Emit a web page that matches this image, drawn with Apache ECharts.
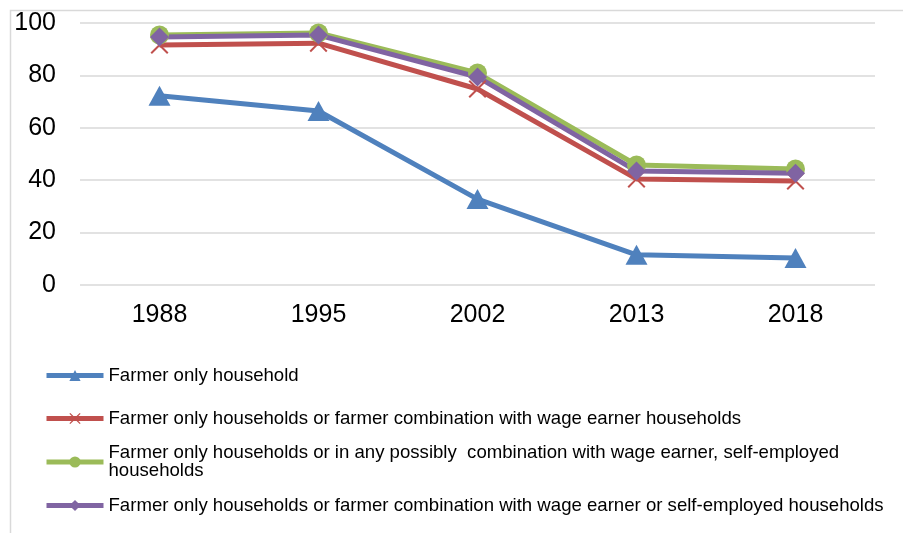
<!DOCTYPE html>
<html lang="en" style="height: 100%">
  <head>
    <meta charset="utf-8" />
  </head>
  <body style="height: 100%; margin: 0; background: #fff">
    <div id="container" style="width: 903px; height: 533px"></div>

    <script src="https://cdn.jsdelivr.net/npm/echarts@6/dist/echarts.min.js"></script>
    <script>
      var years = ["1988", "1995", "2002", "2013", "2018"];
      var seriesNames = [
        "Farmer only household",
        "Farmer only households or farmer combination with wage earner households",
        "Farmer only households or in any possibly  combination with wage earner, self-employed households",
        "Farmer only households or farmer combination with wage earner or self-employed households",
      ];
      var farmerOnly = [72.2, 66.4, 32.8, 11.5, 10.3];
      var withWage = [91.6, 92.3, 74.8, 40.5, 39.7];
      var anyCombination = [95.4, 96.2, 80.9, 45.8, 44.3];
      var wageOrSelf = [94.7, 95.4, 79.4, 43.5, 42.7];
      var yTicks = [0, 20, 40, 60, 80, 100];

      var colors = ["#4f81bd", "#c0504d", "#9bbb59", "#8064a2"];
      var crossPath =
        "path://M0,1.6L1.6,0L10,8.4L18.4,0L20,1.6L11.6,10L20,18.4L18.4,20L10,11.6L1.6,20L0,18.4L8.4,10Z";
      var font = "'Liberation Sans', Arial, sans-serif";

      var myChart = echarts.init(document.getElementById("container"), null, {
        renderer: "canvas",
      });

      // one legend per entry so each row sits where it does in the picture
      function makeLegend(i, top, wrap) {
        var legend = {
          data: [seriesNames[i]],
          left: 44,
          top: top,
          padding: 0,
          itemWidth: 57,
          itemHeight: 14,
          itemGap: 0,
          lineStyle: { width: 5 },
          textStyle: {
            fontFamily: font,
            fontSize: 18.6,
            color: "#000",
            lineHeight: 18,
          },
        };
        if (wrap) {
          legend.textStyle.padding = [12, 0, 0, 0];
          legend.formatter = function (name) {
            return name.replace(/ households$/, "\nhouseholds");
          };
        }
        return legend;
      }

      var option = {
        animation: false,
        color: colors,
        graphic: [
          {
            type: "rect",
            left: 8,
            top: 8,
            shape: { width: 1000, height: 1000 },
            style: { fill: "none", stroke: "#d9d9d9", lineWidth: 1.5 },
            silent: true,
          },
        ],
        grid: { left: 80, right: 28, top: 23, bottom: 248 },
        legend: [
          makeLegend(0, 366),
          makeLegend(1, 409),
          makeLegend(2, 438, true),
          makeLegend(3, 496),
        ],
        xAxis: {
          type: "category",
          data: years,
          boundaryGap: true,
          axisLine: { show: false },
          axisTick: { show: false },
          axisLabel: { fontFamily: font, fontSize: 25, color: "#000", margin: 18 },
        },
        yAxis: {
          type: "value",
          min: yTicks[0],
          max: yTicks[yTicks.length - 1],
          interval: 20,
          axisLine: { show: false },
          axisTick: { show: false },
          axisLabel: { fontFamily: font, fontSize: 25, color: "#000", margin: 24 },
          splitLine: { lineStyle: { color: "#d9d9d9", width: 1.5 } },
        },
        series: [
          {
            name: seriesNames[0],
            type: "line",
            data: farmerOnly,
            symbol: "triangle",
            symbolSize: [22, 20],
            lineStyle: { width: 5 },
            itemStyle: { color: colors[0] },
          },
          {
            name: seriesNames[1],
            type: "line",
            data: withWage,
            symbol: crossPath,
            symbolSize: 18,
            lineStyle: { width: 5 },
            itemStyle: { color: colors[1] },
          },
          {
            name: seriesNames[2],
            type: "line",
            data: anyCombination,
            symbol: "circle",
            symbolSize: 19,
            lineStyle: { width: 5 },
            itemStyle: { color: colors[2] },
          },
          {
            name: seriesNames[3],
            type: "line",
            data: wageOrSelf,
            symbol: "diamond",
            symbolSize: 19,
            lineStyle: { width: 5 },
            itemStyle: { color: colors[3] },
          },
        ],
      };

      myChart.setOption(option);
    </script>
  </body>
</html>
